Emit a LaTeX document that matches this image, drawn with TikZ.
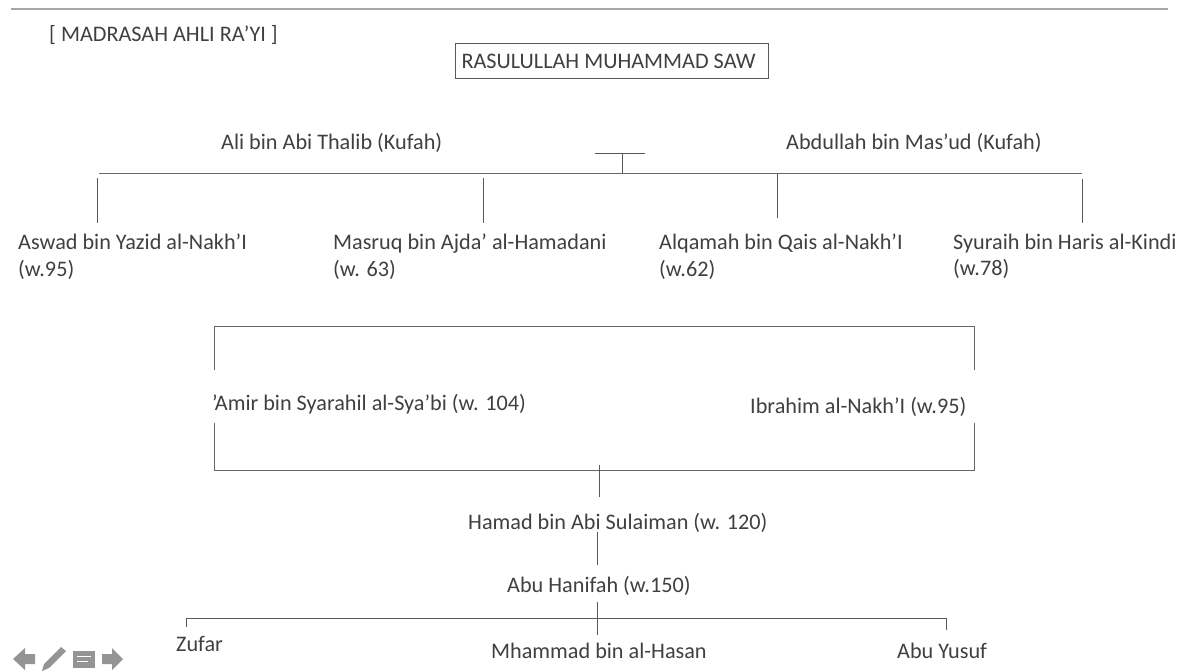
\documentclass[tikz,border=0pt]{standalone}
\usepackage{fontspec}
\setmainfont{Carlito}
\begin{document}
\begin{tikzpicture}[x=1pt,y=-1pt,
  lbl/.style={inner sep=0pt,anchor=west,text=black!75,font=\fontsize{22.2}{26.5}\selectfont,align=left},
  ln/.style={draw=black!60,line width=1pt},
  thin ln/.style={draw=black!65,line width=0.8pt}]
\useasboundingbox (0,0) rectangle (1183,671);
\fill[white] (0,0) rectangle (1183,671);
% top rule
\coordinate (ruleL) at (11,9); \coordinate (ruleR) at (1168,9);
\draw[draw=black!35,line width=1.3pt] (ruleL) -- (ruleR);
\node[lbl] (title) at (49,35) {[ MADRASAH AHLI RA’YI ]};
\node[draw=black!65,line width=1pt,inner sep=0pt,minimum width=313pt,minimum height=35pt,text=black!75,font=\fontsize{22.2}{26.5}\selectfont] (saw) at (611.5,61.5) {\raisebox{-1pt}{RASULULLAH MUHAMMAD SAW}\hspace*{6pt}};
\node[lbl] (ali) at (221,142.5) {Ali bin Abi Thalib (Kufah)};
\node[lbl] (abd) at (786,142.5) {Abdullah bin Mas’ud (Kufah)};
% top tee
\coordinate (teeL) at (595,153); \coordinate (teeR) at (645,153);
\coordinate (teeT) at (622,153); \coordinate (teeB) at (622,174);
\draw[thin ln] (teeL) -- (teeR);
\draw[thin ln] (teeT) -- (teeB);
\coordinate (barL) at (99,174); \coordinate (barR) at (1082,174);
\draw[ln] (barL) -- (barR);
% four
\node[lbl] (aswad) at (18,256.5) {Aswad bin Yazid al-Nakh’I\\(w.95)};
\node[lbl] (masruq) at (333,256.5) {Masruq bin Ajda’ al-Hamadani\\(w. 63)};
\node[lbl] (alqamah) at (659,256.5) {Alqamah bin Qais al-Nakh’I\\(w.62)};
\node[lbl] (syuraih) at (953,256.5) {Syuraih bin Haris al-Kindi\\(w.78)};
\coordinate (a1) at (97.5,178); \coordinate (a2) at (97.5,223);
\coordinate (b1) at (483,178); \coordinate (b2) at (483,223);
\coordinate (c1) at (777,174); \coordinate (c2) at (777,218);
\coordinate (d1) at (1082,179); \coordinate (d2) at (1082,223);
\foreach \p/\q in {a1/a2,b1/b2,c1/c2,d1/d2} \draw[thin ln] (\p) -- (\q);
% bracket
\node[lbl] (amir) at (212,404) {’Amir bin Syarahil al-Sya’bi (w. 104)};
\node[lbl] (ibr) at (750,407) {Ibrahim al-Nakh’I (w.95)};
\coordinate (bTL) at (214,326); \coordinate (bTR) at (974,326);
\coordinate (bTLb) at (214,370); \coordinate (bTRb) at (974,370);
\coordinate (bBL) at (214,470); \coordinate (bBR) at (974,470);
\coordinate (bBLt) at (214,423); \coordinate (bBRt) at (974,423);
\draw[ln] (bTLb) -- (bTL) -- (bTR) -- (bTRb);
\draw[ln] (bBLt) -- (bBL) -- (bBR) -- (bBRt);
\node[lbl] (hamad) at (468,523) {Hamad bin Abi Sulaiman (w. 120)};
\node[lbl] (abuh) at (507,586) {Abu Hanifah (w.150)};
\coordinate (h1) at (599,465); \coordinate (h2) at (599,497);
\draw[thin ln] (h1) -- (h2);
\coordinate (i1) at (597,532); \coordinate (i2) at (597,565);
\draw[thin ln] (i1) -- (i2);
% bottom
\node[lbl] (zufar) at (176,644) {Zufar};
\node[lbl] (mh) at (491,651) {Mhammad bin al-Hasan};
\node[lbl] (yusuf) at (897,651) {Abu Yusuf};
\coordinate (l1) at (186,627); \coordinate (l2) at (186,618);
\coordinate (r1) at (946,618); \coordinate (r2) at (946,630);
\coordinate (m1) at (597,602); \coordinate (m4) at (597,635);
\draw[thin ln] (l1) -- (l2) -- (r1) -- (r2);
\draw[thin ln] (m1) -- (m4);
% toolbar icons
\fill[black!42] (13,659) -- (25,648) -- (25,654) -- (35,654) -- (35,664) -- (25,664) -- (25,670) -- cycle;
\fill[black!42] (42,671) -- (44,664) -- (61,647) -- (66,651) -- (49,668) -- cycle;
\fill[black!42] (73,651) rectangle (95,668);
\draw[white,line width=1pt] (77,656.5) -- (91,656.5);
\draw[white,line width=1.5pt] (77,661.5) -- (88,661.5);
\fill[black!42] (123,659) -- (112,648) -- (112,654) -- (102,654) -- (102,664) -- (112,664) -- (112,670) -- cycle;
\end{tikzpicture}
\end{document}
